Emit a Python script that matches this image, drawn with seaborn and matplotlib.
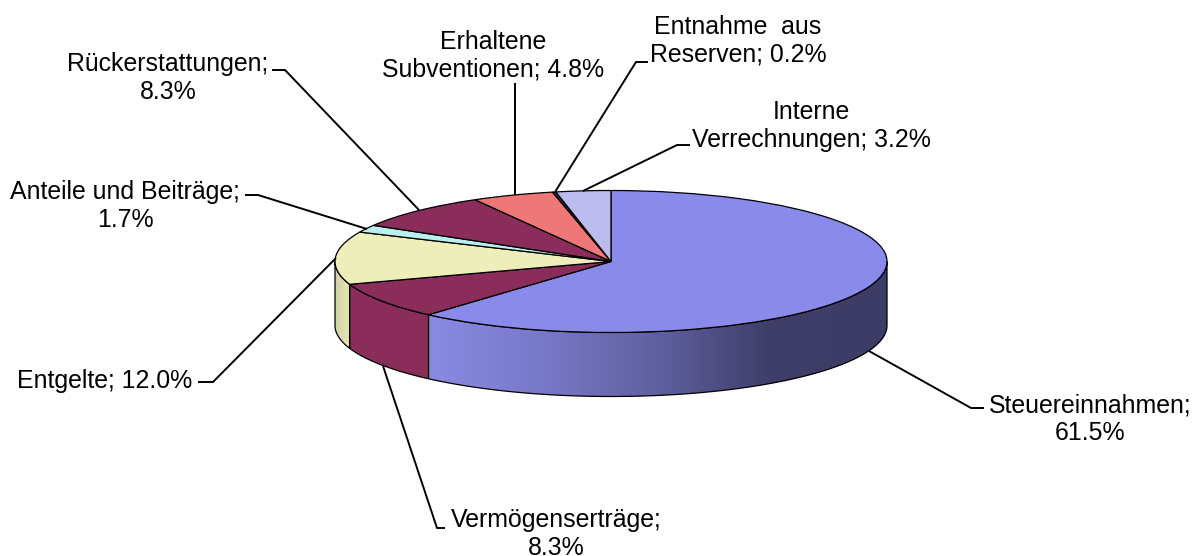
import numpy as np
import seaborn as sns
import matplotlib.pyplot as plt
from matplotlib.patches import Polygon

categories = ["Steuereinnahmen", "Vermögenserträge", "Entgelte", "Anteile und Beiträge",
              "Rückerstattungen", "Erhaltene Subventionen", "Entnahme aus Reserven",
              "Interne Verrechnungen"]
shares = [61.5, 8.3, 12.0, 1.7, 8.3, 4.8, 0.2, 3.2]
colors = ["#8a8aea", "#8a2d5a", "#eeeebb", "#bbeeee", "#8a2d5a", "#ee7777", "#1c2a5a", "#bbbbee"]
labels = ["Steuereinnahmen;\n61.5%", "Vermögenserträge;\n8.3%", "Entgelte; 12.0%",
          "Anteile und Beiträge;\n1.7%", "Rückerstattungen;\n8.3%",
          "Erhaltene\nSubventionen; 4.8%", "Entnahme  aus\nReserven; 0.2%",
          "Interne\nVerrechnungen; 3.2%"]

# wall shading, left to right, for the slices that have one
wall_shades = {0: ["#8a8ae4", "#7878c8", "#6060a0", "#3e3e68", "#3c3c66"], 2: ["#cfcfa6", "#e8e8b8"]}

# pixel layout of the labels and their leader lines
label_pos = [(1090, 419), (556, 534), (105, 381), (125, 206), (168, 78), (493, 56), (738, 41), (811, 126)]
leaders = [
    [(869, 351), (971, 408), (984, 408)],
    [(383, 366), (437, 528), (445, 528)],
    [(336, 258), (213, 382), (198, 382)],
    [(367, 229), (258, 195), (245, 195)],
    [(419, 210), (285, 70), (272, 70)],
    [(515, 195), (515, 83)],
    [(555, 192), (636, 62), (648, 62)],
    [(583, 191), (677, 145), (690, 145)],
]

W, H = 1199, 556
CX, CY, RX, RY = 611, 261.5, 276, 71
DEPTH = 64 / RY  # wall height in pie units

sns.set_theme(style="white")
plt.rcParams["font.family"] = ["Liberation Sans", "DejaVu Sans"]

fig = plt.figure(figsize=(W / 100, H / 100), dpi=100, facecolor="white")

# pie axes, stretched so the circle turns into the flat ellipse
xlim = (-1.05, 1.05)
ylim = (-2.05, 1.05)
left = (CX + RX * xlim[0]) / W
width = RX * (xlim[1] - xlim[0]) / W
bottom = 1 - (CY - RY * ylim[0]) / H
height = RY * (ylim[1] - ylim[0]) / H
ax = fig.add_axes([left, bottom, width, height])

edges = np.cumsum([0] + shares) / 100 * 360  # clockwise from the top


def wall_polygon(a, b):
    t = np.radians(np.linspace(a, b, 120))
    x, y = np.sin(t), np.cos(t)
    return np.column_stack([np.r_[x, x[::-1]], np.r_[y, y[::-1] - DEPTH]])


# side walls, only the part facing the viewer
for i, color in enumerate(colors):
    a, b = max(edges[i], 90), min(edges[i + 1], 270)
    if a >= b:
        continue
    shaded = i in wall_shades
    pts = wall_polygon(a, b)
    poly = Polygon(pts, closed=True, facecolor="none" if shaded else color,
                   edgecolor="black", linewidth=0.9, zorder=2)
    ax.add_patch(poly)
    if shaded:
        cmap = sns.blend_palette(wall_shades[i], as_cmap=True)
        im = ax.imshow(np.linspace(0, 1, 256)[None, :], cmap=cmap, aspect="auto",
                       extent=(pts[:, 0].min(), pts[:, 0].max(), -2, 1), zorder=1.5)
        im.set_clip_path(poly)

ax.pie(shares, colors=colors, startangle=90, counterclock=False, radius=1, center=(0, 0),
       wedgeprops=dict(edgecolor="black", linewidth=0.9, zorder=3))
ax.set_aspect("auto")
ax.set_xlim(*xlim)
ax.set_ylim(*ylim)
ax.axis("off")

# overlay in pixel coordinates for labels and leaders
ov = fig.add_axes([0, 0, 1, 1], facecolor="none")
ov.set_xlim(0, W)
ov.set_ylim(H, 0)
ov.axis("off")
for pts, (x, y), text in zip(leaders, label_pos, labels):
    xs, ys = zip(*pts)
    ov.plot(xs, ys, color="black", linewidth=1.4, solid_capstyle="butt")
    ov.text(x, y, text, ha="center", va="center", fontsize=17.9, color="black", linespacing=1.2)

fig.savefig("out.png", dpi=100)
